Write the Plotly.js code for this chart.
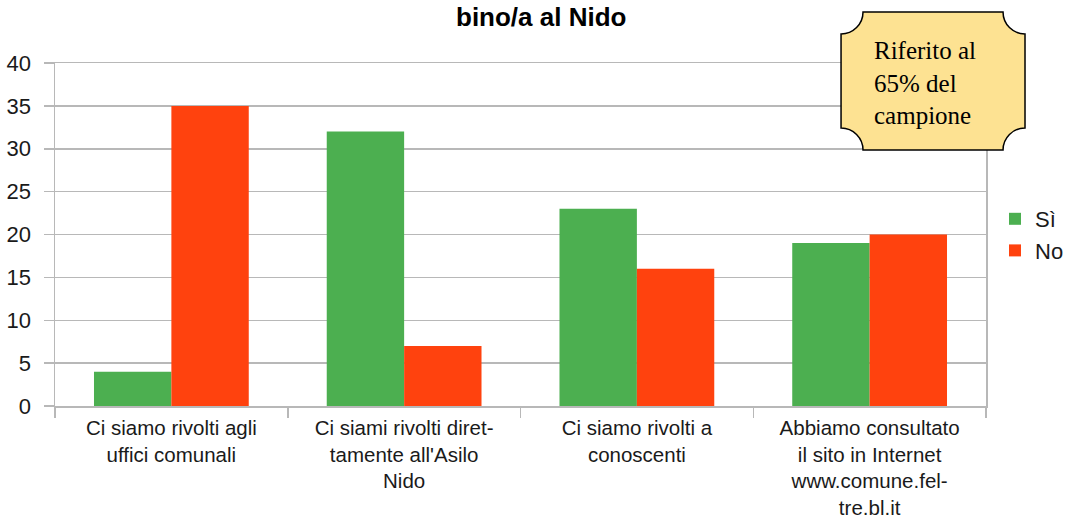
<!DOCTYPE html>
<html>
<head>
<meta charset="utf-8">
<script src="https://cdn.plot.ly/plotly-3.0.1.min.js"></script>
<style>
  html, body { margin:0; padding:0; background:#fff; }
  #chart { width:1069px; height:523px; }
</style>
</head>
<body>
<div id="chart"></div>
<script>
// data
const categories = [
  'Ci siamo rivolti agli<br>uffici comunali',
  'Ci siami rivolti diret-<br>tamente all\'Asilo<br>Nido',
  'Ci siamo rivolti a<br>conoscenti',
  'Abbiamo consultato<br>il sito in Internet<br>www.comune.fel-<br>tre.bl.it'
];
const si = [4, 32, 23, 19];
const no = [35, 7, 16, 20];
const yTicks = [0, 5, 10, 15, 20, 25, 30, 35, 40];

const W = 1069, H = 523;
const M = {l:55, r:83, t:63, b:117, autoexpand:false};
const pw = W - M.l - M.r, ph = H - M.t - M.b;
// pixel -> paper helpers (for the decorations only)
const px = x => (x - M.l) / pw;
const py = y => (H - M.b - y) / ph;

// callout box with concave corners
function plaque(x0, y0, x1, y1, r){
  const k = 0.5523;
  const X = v => px(v).toFixed(4), Y = v => py(v).toFixed(4);
  return `M${X(x0+r)},${Y(y0)} L${X(x1-r)},${Y(y0)}` +
    ` C${X(x1-r)},${Y(y0+k*r)} ${X(x1-k*r)},${Y(y0+r)} ${X(x1)},${Y(y0+r)}` +
    ` L${X(x1)},${Y(y1-r)}` +
    ` C${X(x1-k*r)},${Y(y1-r)} ${X(x1-r)},${Y(y1-k*r)} ${X(x1-r)},${Y(y1)}` +
    ` L${X(x0+r)},${Y(y1)}` +
    ` C${X(x0+r)},${Y(y1-k*r)} ${X(x0+k*r)},${Y(y1-r)} ${X(x0)},${Y(y1-r)}` +
    ` L${X(x0)},${Y(y0+r)}` +
    ` C${X(x0+k*r)},${Y(y0+r)} ${X(x0+r)},${Y(y0+k*r)} ${X(x0+r)},${Y(y0)} Z`;
}

const sans = 'Liberation Sans, Arial, sans-serif';
const grid = '#b8b8b8';

const traces = [
  {type:'bar', name:'Sì', x:categories, y:si, marker:{color:'#4caf50'}, hoverinfo:'none'},
  {type:'bar', name:'No', x:categories, y:no, marker:{color:'#ff420e'}, hoverinfo:'none'}
];

const layout = {
  width:W, height:H,
  margin:M,
  paper_bgcolor:'#fff',
  plot_bgcolor:'#fff',
  barmode:'group',
  bargap:0.335,
  bargroupgap:0,
  font:{family:sans, color:'#1a1a1a'},
  xaxis:{
    type:'category',
    tickson:'boundaries',
    ticks:'outside', ticklen:10, tickwidth:1.5, tickcolor:grid,
    showgrid:false,
    showline:true, linecolor:grid, linewidth:1.5, mirror:true,
    tickfont:{size:20.5, family:sans, color:'#1a1a1a'},
    ticklabelstandoff:3,
    automargin:false,
    fixedrange:true
  },
  yaxis:{
    range:[0, 40],
    tickvals:yTicks,
    ticks:'outside', ticklen:10, tickwidth:1.5, tickcolor:grid,
    gridcolor:grid, gridwidth:1.5,
    showline:true, linecolor:grid, linewidth:1.5, mirror:true,
    zeroline:false,
    tickfont:{size:22, family:sans, color:'#1a1a1a'},
    ticklabelstandoff:8,
    automargin:false,
    fixedrange:true
  },
  legend:{
    x:px(995), xanchor:'left',
    y:py(235), yanchor:'middle',
    font:{size:22, family:sans, color:'#1a1a1a'},
    bgcolor:'rgba(0,0,0,0)',
    itemclick:false, itemdoubleclick:false
  },
  shapes:[
    {type:'path', xref:'paper', yref:'paper', layer:'above',
     path:plaque(841, 12, 1025, 150, 22),
     fillcolor:'#fde292', line:{color:'#000', width:1.5}}
  ],
  annotations:[
    {text:'<b>bino/a al Nido</b>', xref:'paper', yref:'paper',
     x:px(541), y:py(0), xanchor:'center', yanchor:'top', showarrow:false,
     font:{size:26, family:sans, color:'#000'}},
    {text:'Riferito al<br>65% del<br>campione', xref:'paper', yref:'paper',
     x:px(872), y:py(83), xanchor:'left', yanchor:'middle', align:'left', showarrow:false,
     font:{size:25, family:'Liberation Serif, Times New Roman, serif', color:'#000'}}
  ],
  showlegend:true
};

Plotly.newPlot('chart', traces, layout, {staticPlot:true, displayModeBar:false});
</script>
</body>
</html>
